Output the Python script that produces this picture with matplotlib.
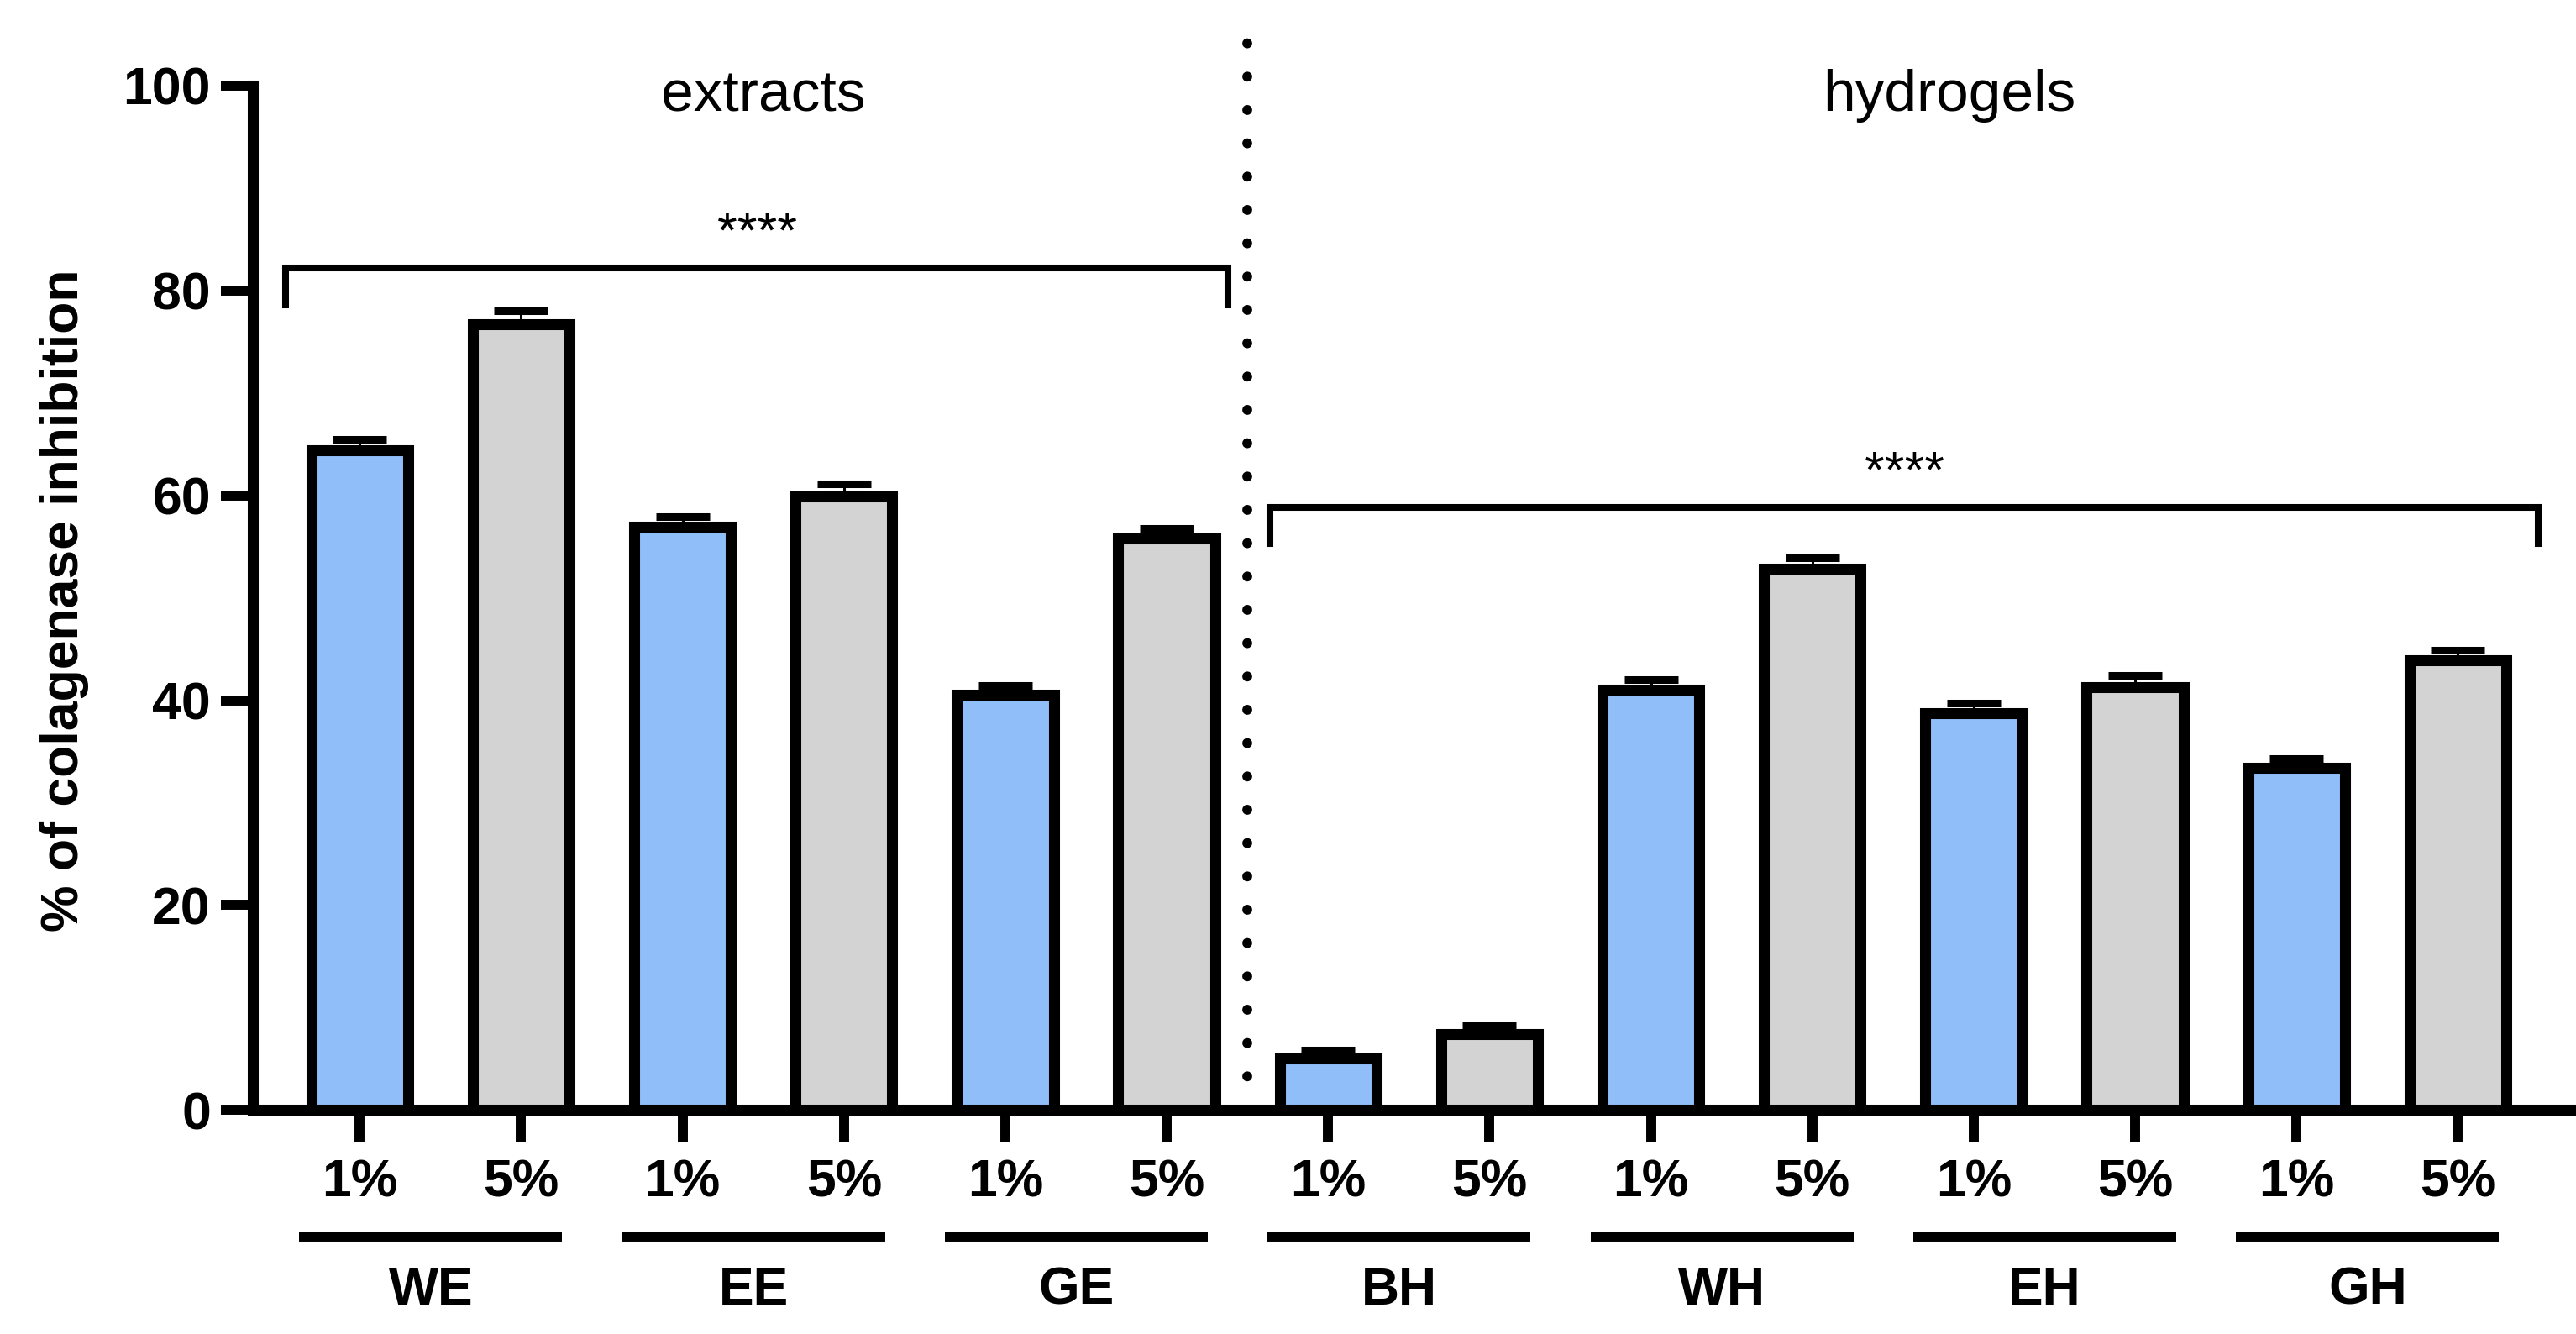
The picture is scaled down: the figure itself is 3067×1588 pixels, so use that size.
import matplotlib

matplotlib.use("Agg")
import matplotlib.pyplot as plt
import numpy as np

plt.rcParams["font.family"] = ["Liberation Sans", "DejaVu Sans"]

# Datos (media y SD de la inhibicion de colagenasa, %)
groups = ["WE", "EE", "GE", "BH", "WH", "EH", "GH"]
conc_labels = ["1%", "5%"]
mean_1 = [64.4, 56.9, 40.5, 5.0, 41.0, 38.7, 33.4]
mean_5 = [76.7, 59.9, 55.8, 7.4, 52.8, 41.3, 43.9]
sd_1 = [1.1, 1.0, 0.9, 0.8, 1.0, 1.0, 0.9]
sd_5 = [1.3, 1.2, 1.0, 0.8, 1.1, 1.1, 1.0]
sections = ["extracts", "hydrogels"]
sig_label = "****"

color_1 = "#90bef8"
color_5 = "#d3d3d3"

# barras intercaladas 1% / 5% por grupo
n = len(groups)
x1 = np.arange(n) * 2
x5 = x1 + 1

fig = plt.figure(figsize=(30.67, 15.88), dpi=100)
ax = fig.add_axes([0.0983, 0.168, 0.8997, 0.7678])

bar_kw = dict(width=0.6, edgecolor="black", linewidth=9.4, zorder=3)
ax.bar(x1, mean_1, color=color_1, **bar_kw)
ax.bar(x5, mean_5, color=color_5, **bar_kw)
err_kw = dict(fmt="none", ecolor="black", elinewidth=2.2, capsize=23, capthick=6.5, zorder=4)
ax.errorbar(x1, mean_1, yerr=[np.zeros(n), sd_1], **err_kw)
ax.errorbar(x5, mean_5, yerr=[np.zeros(n), sd_5], **err_kw)

# ejes estilo GraphPad
ax.set_xlim(-0.66, 13.70)
ax.set_ylim(0, 100)
for side in ("top", "right"):
    ax.spines[side].set_visible(False)
for side in ("left", "bottom"):
    ax.spines[side].set_linewidth(9.4)
    ax.spines[side].set_capstyle("projecting")
ax.set_yticks(np.arange(0, 101, 20))
ax.set_xticks(np.concatenate([x1, x5]))
ax.set_xticklabels(conc_labels[:1] * n + conc_labels[1:] * n)
ax.tick_params(axis="both", length=27.4, width=8.6, labelsize=45)
ax.tick_params(axis="y", pad=9)
ax.tick_params(axis="x", pad=14)
for lab in ax.get_xticklabels() + ax.get_yticklabels():
    lab.set_fontweight("bold")

fig.text(77 / 3067, 1 - 715 / 1588, "% of colagenase inhibition", rotation=90,
         ha="center", va="center", fontsize=45, fontweight="bold")

# separador punteado entre extractos e hidrogeles
ax.plot([5.5, 5.5], [0, 105.5], color="black", lw=8.5,
        linestyle=(0, (0.01, 3.35)), dash_capstyle="round", clip_on=False, zorder=2)

# titulos de seccion
ax.text(2.5, 97.5, sections[0], ha="center", va="baseline", fontsize=50)
ax.text(9.85, 97.5, sections[1], ha="center", va="baseline", fontsize=50)

# corchetes de significancia
def bracket(x0, x1_, y, drop):
    ax.plot([x0, x0, x1_, x1_], [y - drop, y, y, y - drop], color="black", lw=5.8,
            solid_joinstyle="miter", clip_on=False, zorder=5)
    ax.text((x0 + x1_) / 2, y + 2.0, sig_label, ha="center", va="baseline", fontsize=44)

bracket(-0.46, 5.38, 82.2, 3.6)
bracket(5.64, 13.5, 58.8, 3.5)

# subrayado y nombre de grupo bajo el eje
for i, g in enumerate(groups):
    cx = (x1[i] + x5[i]) / 2 - 0.06
    ax.plot([cx - 0.815, cx + 0.815], [-12.4, -12.4], color="black", lw=8.6,
            solid_capstyle="butt", clip_on=False)
    ax.text(cx, -19.0, g, ha="center", va="baseline", fontsize=45, fontweight="bold")

fig.savefig("out.png", dpi=100)
